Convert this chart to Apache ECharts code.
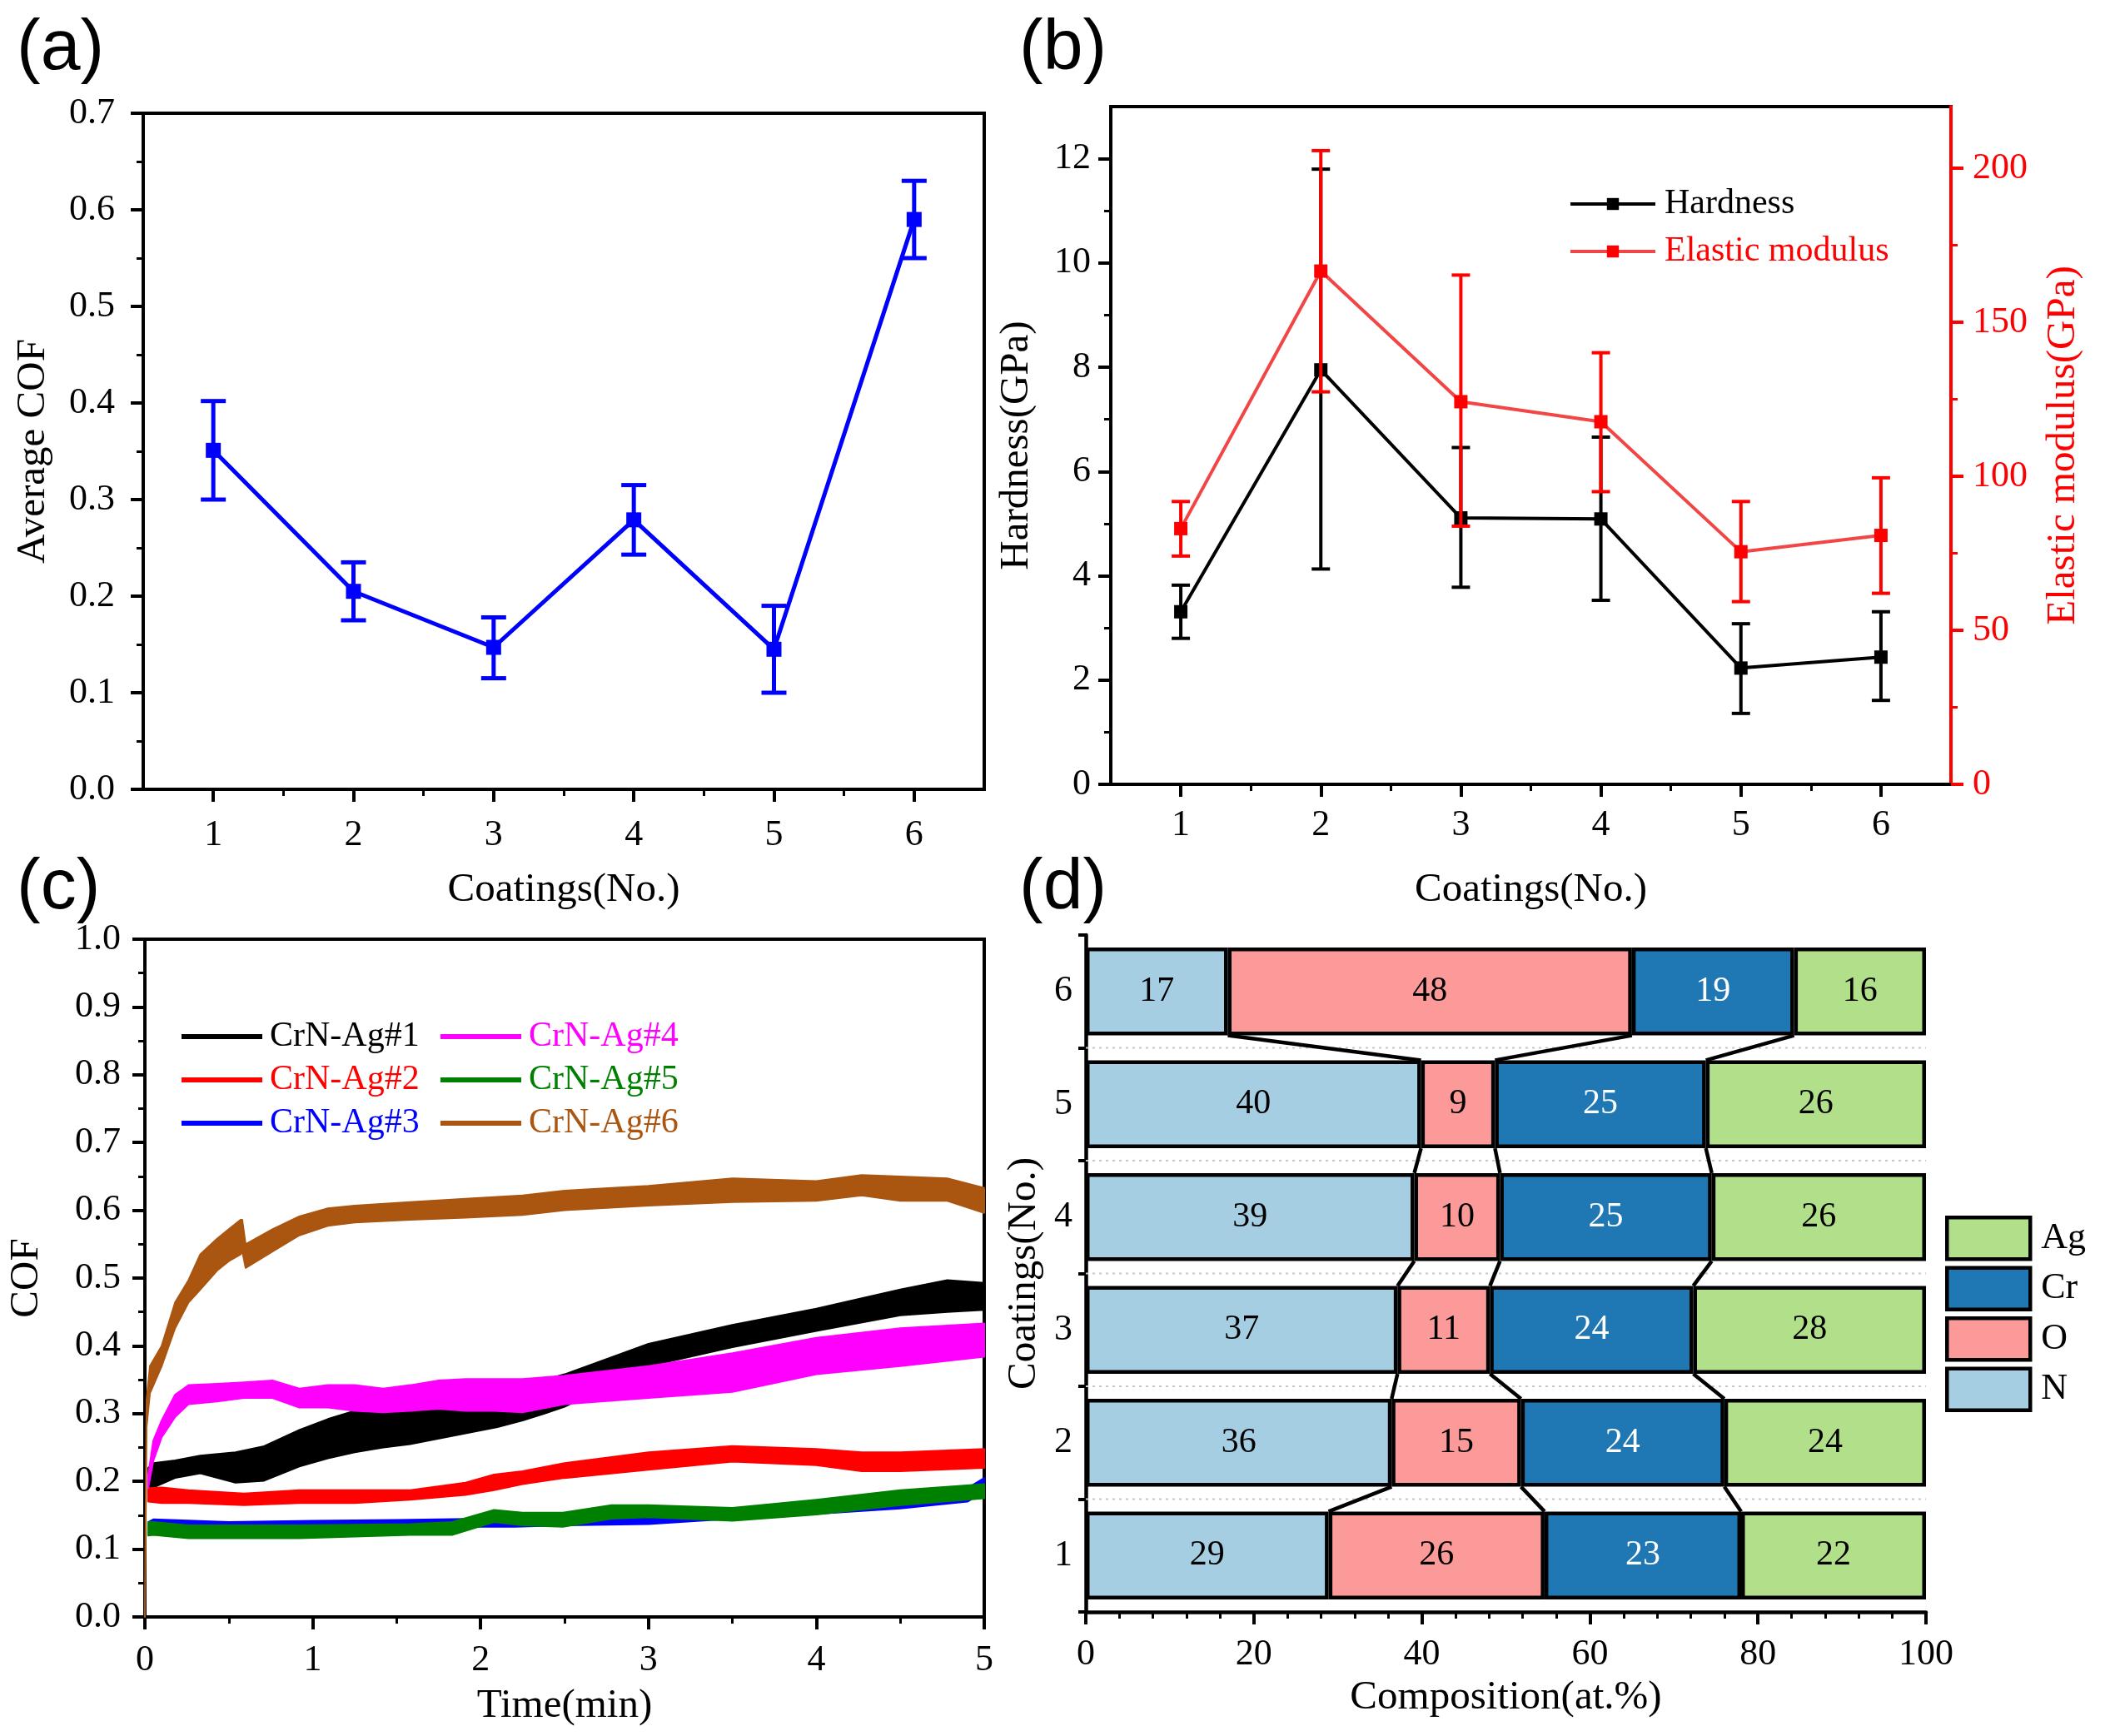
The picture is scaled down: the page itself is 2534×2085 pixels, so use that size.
<!DOCTYPE html>
<html><head><meta charset="utf-8">
<script src="https://cdn.jsdelivr.net/npm/echarts@6/dist/echarts.min.js"></script>
<style>html,body{margin:0;padding:0;background:#fff}#c{width:2534px;height:2085px}</style>
</head><body><div id="c"></div>
<script>
// ---------- data ----------
const coatings = [1, 2, 3, 4, 5, 6];
const coatingTicks = [1, 2, 3, 4, 5, 6];
const coatingMinorTicks = [1.5, 2.5, 3.5, 4.5, 5.5];

// (a) average COF
const avgCOF = [0.351, 0.205, 0.147, 0.279, 0.145, 0.590];
const avgCOFLow = [0.300, 0.175, 0.115, 0.243, 0.100, 0.550];
const avgCOFHigh = [0.402, 0.235, 0.178, 0.315, 0.190, 0.630];

// (b) hardness / elastic modulus
const hardness = [3.31, 7.95, 5.11, 5.09, 2.23, 2.44];
const hardnessLow = [2.80, 4.13, 3.78, 3.53, 1.36, 1.61];
const hardnessHigh = [3.82, 11.80, 6.46, 6.66, 3.08, 3.31];
const modulus = [83.0, 166.6, 124.2, 117.7, 75.5, 80.8];
const modulusLow = [74.1, 127.4, 83.8, 95.0, 59.3, 62.0];
const modulusHigh = [91.8, 205.7, 165.3, 140.1, 91.8, 99.5];
const hardnessTicks = [0, 2, 4, 6, 8, 10, 12];
const hardnessMinorTicks = [1, 3, 5, 7, 9, 11];
const modulusTicks = [0, 50, 100, 150, 200];
const modulusMinorTicks = [25, 75, 125, 175];

// (c) COF vs time: lower / upper envelope of each noisy trace
const cof1T  = [0.02, 0.05, 0.18, 0.33, 0.54, 0.71, 0.92, 1.09, 1.25, 1.42, 1.58, 1.91, 2.1, 2.25, 2.38, 2.5, 3.0, 3.5, 4.0, 4.5, 4.78, 5.0];
const cof1Lo = [0.190, 0.191, 0.205, 0.212, 0.198, 0.201, 0.222, 0.234, 0.243, 0.250, 0.255, 0.271, 0.280, 0.290, 0.300, 0.310, 0.370, 0.398, 0.422, 0.445, 0.450, 0.453];
const cof1Hi = [0.220, 0.227, 0.231, 0.238, 0.243, 0.252, 0.276, 0.292, 0.304, 0.310, 0.312, 0.315, 0.320, 0.330, 0.350, 0.358, 0.403, 0.431, 0.455, 0.483, 0.497, 0.493];

const cof2T  = [0.02, 0.1, 0.26, 0.59, 0.92, 1.25, 1.58, 1.91, 2.08, 2.25, 2.5, 3.0, 3.5, 4.0, 4.27, 4.5, 5.0];
const cof2Lo = [0.170, 0.168, 0.168, 0.165, 0.168, 0.168, 0.173, 0.180, 0.187, 0.196, 0.205, 0.217, 0.229, 0.224, 0.215, 0.215, 0.220];
const cof2Hi = [0.190, 0.191, 0.187, 0.182, 0.187, 0.187, 0.187, 0.198, 0.210, 0.215, 0.227, 0.243, 0.252, 0.248, 0.243, 0.243, 0.248];

const cof3T  = [0.02, 0.05, 0.5, 1.0, 1.5, 2.0, 2.2, 2.5, 3.0, 3.5, 4.0, 4.5, 4.9, 5.0];
const cof3Lo = [0.125, 0.130, 0.130, 0.130, 0.131, 0.133, 0.133, 0.135, 0.137, 0.145, 0.152, 0.160, 0.170, 0.185];
const cof3Hi = [0.140, 0.144, 0.140, 0.142, 0.143, 0.145, 0.148, 0.148, 0.152, 0.160, 0.165, 0.175, 0.190, 0.205];

const cof4T  = [0.02, 0.05, 0.1, 0.18, 0.26, 0.43, 0.59, 0.76, 0.92, 1.09, 1.25, 1.42, 1.58, 1.75, 1.91, 2.08, 2.25, 2.5, 3.0, 3.5, 4.0, 4.5, 5.0];
const cof4Lo = [0.190, 0.230, 0.265, 0.295, 0.314, 0.318, 0.323, 0.323, 0.309, 0.309, 0.304, 0.302, 0.304, 0.307, 0.304, 0.304, 0.302, 0.314, 0.323, 0.332, 0.358, 0.370, 0.384];
const cof4Hi = [0.210, 0.260, 0.290, 0.328, 0.342, 0.344, 0.346, 0.349, 0.337, 0.342, 0.342, 0.337, 0.342, 0.349, 0.351, 0.351, 0.351, 0.356, 0.370, 0.389, 0.412, 0.426, 0.433];

const cof5T  = [0.02, 0.05, 0.26, 0.92, 1.58, 1.83, 2.08, 2.25, 2.49, 2.78, 3.0, 3.5, 4.0, 4.5, 5.0];
const cof5Lo = [0.120, 0.121, 0.116, 0.116, 0.121, 0.121, 0.140, 0.135, 0.133, 0.145, 0.147, 0.142, 0.151, 0.165, 0.175];
const cof5Hi = [0.140, 0.140, 0.135, 0.135, 0.137, 0.140, 0.158, 0.154, 0.154, 0.165, 0.165, 0.161, 0.173, 0.187, 0.196];

const cof6T  = [0, 0.01, 0.03, 0.1, 0.18, 0.26, 0.33, 0.43, 0.5, 0.57, 0.58, 0.6, 0.76, 0.92, 1.09, 1.25, 1.58, 1.91, 2.25, 2.5, 3.0, 3.5, 4.0, 4.27, 4.5, 4.78, 5.0];
const cof6Lo = [0.000, 0.280, 0.330, 0.370, 0.426, 0.464, 0.483, 0.511, 0.525, 0.535, 0.540, 0.515, 0.539, 0.563, 0.577, 0.582, 0.586, 0.589, 0.593, 0.600, 0.607, 0.612, 0.614, 0.622, 0.614, 0.614, 0.596];
const cof6Hi = [0.010, 0.320, 0.370, 0.400, 0.464, 0.497, 0.535, 0.558, 0.572, 0.586, 0.586, 0.550, 0.572, 0.591, 0.603, 0.607, 0.612, 0.617, 0.622, 0.629, 0.636, 0.647, 0.643, 0.652, 0.650, 0.647, 0.633];

const traceNames = ['CrN-Ag#1', 'CrN-Ag#2', 'CrN-Ag#3', 'CrN-Ag#4', 'CrN-Ag#5', 'CrN-Ag#6'];

// (d) composition (at.%)
const compCategories = ['1', '2', '3', '4', '5', '6'];
const compN  = [28.9, 36.4, 37.1, 39.1, 39.9, 16.9];
const compO  = [25.7, 15.4, 11.0, 10.2, 8.8, 48.1];
const compCr = [23.4, 24.2, 24.2, 25.2, 25.1, 19.3];
const compAg = [22.0, 24.0, 27.7, 25.5, 26.2, 15.7];

// ---------- styling ----------
const SERIF = '"Liberation Serif", "Times New Roman", serif';
const LAB = 44, TIT = 49;
const traceColors = ['#000000', '#ff0000', '#0000ff', '#ff00ff', '#008000', '#aa5510'];
const compColors = {N: '#a6cee3', O: '#fb9a99', Cr: '#1f78b4', Ag: '#b2df8a'};

function lbl(extra) {
  return Object.assign({fontSize: LAB, fontFamily: SERIF, color: '#000'}, extra || {});
}
function nameStyle(color) {
  return {fontSize: TIT, fontFamily: SERIF, color: color || '#000'};
}
function line(color, w) { return {show: true, lineStyle: {color: color || '#000', width: w || 4}}; }
function tick(len, color, extra) {
  return Object.assign({show: true, length: len, lineStyle: {color: color || '#000', width: 4}}, extra || {});
}
function minorAxisX(grid, min, max, vals) {
  return {gridIndex: grid, type: 'value', position: 'bottom', min: min, max: max,
    axisLine: {show: false}, axisLabel: {show: false}, splitLine: {show: false},
    axisTick: {show: true, length: 8, customValues: vals, lineStyle: {color: '#000', width: 3}}};
}
function minorAxisY(grid, pos, min, max, vals, color) {
  return {gridIndex: grid, type: 'value', position: pos, min: min, max: max,
    axisLine: {show: false}, axisLabel: {show: false}, splitLine: {show: false},
    axisTick: {show: true, length: 8, customValues: vals, lineStyle: {color: color || '#000', width: 3}}};
}

function errorBars(cap, color, width) {
  return function (params, api) {
    const x = api.value(0);
    const lo = api.coord([x, api.value(1)]);
    const hi = api.coord([x, api.value(2)]);
    const st = () => ({stroke: color, lineWidth: width});
    return {type: 'group', children: [
      {type: 'line', shape: {x1: lo[0], y1: lo[1], x2: hi[0], y2: hi[1]}, style: st()},
      {type: 'line', shape: {x1: hi[0] - cap, y1: hi[1], x2: hi[0] + cap, y2: hi[1]}, style: st()},
      {type: 'line', shape: {x1: lo[0] - cap, y1: lo[1], x2: lo[0] + cap, y2: lo[1]}, style: st()}
    ]};
  };
}

// bands for panel (c): filled polygon between the lower and upper envelope
const traces = [
  [cof1T, cof1Lo, cof1Hi], [cof2T, cof2Lo, cof2Hi], [cof3T, cof3Lo, cof3Hi],
  [cof4T, cof4Lo, cof4Hi], [cof5T, cof5Lo, cof5Hi], [cof6T, cof6Lo, cof6Hi]
];
const bandSeries = traces.map(function (tr, i) {
  const T = tr[0], Lo = tr[1], Hi = tr[2];
  const color = traceColors[i];
  return {
    type: 'custom', name: traceNames[i], xAxisIndex: 4, yAxisIndex: 5, silent: true,
    itemStyle: {color: color}, encode: {x: 0, y: [1, 2]},
    data: T.map((t, k) => [t, Lo[k], Hi[k]]), z: 2,
    renderItem: function (params, api) {
      if (params.dataIndexInside !== 0) return null;
      const n = params.dataInsideLength;
      const upper = [], lower = [];
      for (let j = 0; j < n; j++) {
        const t = api.value(0, j);
        upper.push(api.coord([t, api.value(2, j)]));
        lower.push(api.coord([t, api.value(1, j)]));
      }
      const pts = upper.concat(lower.reverse());
      return {type: 'polygon', shape: {points: pts},
        style: {fill: color, stroke: color, lineWidth: 2, lineJoin: 'round'}};
    }
  };
});

// connectors & gap grid lines for panel (d)
const compRows = compCategories.map((c, k) => [compN[k], compN[k] + compO[k], compN[k] + compO[k] + compCr[k]]);
const connData = [];
for (let k = 0; k < compRows.length - 1; k++) {
  for (let j = 0; j < 3; j++) connData.push([compRows[k][j], k, compRows[k + 1][j], k + 1, j]);
}
const BAR_FRAC = 0.78;

function compBar(name, values, textColor) {
  return {
    type: 'bar', name: name, xAxisIndex: 5, yAxisIndex: 6, stack: 'comp', barWidth: (BAR_FRAC * 100) + '%',
    data: values,
    itemStyle: {color: compColors[name], borderColor: '#000', borderWidth: 4.5},
    label: {show: true, position: 'inside', formatter: p => String(Math.round(p.value)),
      fontSize: 42, fontFamily: SERIF, color: textColor},
    z: 3
  };
}

const chart = echarts.init(document.getElementById('c'), null, {renderer: 'canvas', width: 2534, height: 2085});

const option = {
  animation: false,
  backgroundColor: '#fff',
  textStyle: {fontFamily: SERIF},
  grid: [
    {left: 172, top: 136, width: 1010, height: 812, show: true, borderColor: '#000', borderWidth: 4, backgroundColor: 'transparent'},
    {left: 1334, top: 128, width: 1009, height: 814, show: true, borderColor: '#000', borderWidth: 4, backgroundColor: 'transparent'},
    {left: 174, top: 1128, width: 1008, height: 814, show: true, borderColor: '#000', borderWidth: 4, backgroundColor: 'transparent'},
    {left: 1304, top: 1123, width: 1009, height: 813}
  ],
  xAxis: [
    {gridIndex: 0, type: 'value', position: 'bottom', min: 0.5, max: 6.5,
      axisLine: line(), axisTick: tick(15, '#000', {customValues: coatingTicks}),
      axisLabel: lbl({margin: 33, customValues: coatingTicks}), splitLine: {show: false},
      name: 'Coatings(No.)', nameLocation: 'middle', nameGap: 97, nameTextStyle: nameStyle()},
    minorAxisX(0, 0.5, 6.5, coatingMinorTicks),
    {gridIndex: 1, type: 'value', position: 'bottom', min: 0.5, max: 6.5,
      axisLine: line(), axisTick: tick(15, '#000', {customValues: coatingTicks}),
      axisLabel: lbl({margin: 27, customValues: coatingTicks}), splitLine: {show: false},
      name: 'Coatings(No.)', nameLocation: 'middle', nameGap: 103, nameTextStyle: nameStyle()},
    minorAxisX(1, 0.5, 6.5, coatingMinorTicks),
    {gridIndex: 2, type: 'value', min: 0, max: 5, interval: 1,
      axisLine: line(), axisTick: tick(15),
      minorTick: {show: true, splitNumber: 2, length: 8, lineStyle: {color: '#000', width: 3}},
      axisLabel: lbl({margin: 30}), splitLine: {show: false}, minorSplitLine: {show: false},
      name: 'Time(min)', nameLocation: 'middle', nameGap: 83, nameTextStyle: nameStyle()},
    {gridIndex: 3, type: 'value', min: 0, max: 100, interval: 20,
      axisLine: line('#000', 4.5), axisTick: tick(15),
      minorTick: {show: true, splitNumber: 5, length: 8, lineStyle: {color: '#000', width: 3}},
      axisLabel: lbl({margin: 29}), splitLine: {show: false},
      name: 'Composition(at.%)', nameLocation: 'middle', nameGap: 79, nameTextStyle: nameStyle()}
  ],
  yAxis: [
    {gridIndex: 0, type: 'value', min: 0, max: 0.7, interval: 0.1,
      axisLine: line(), axisTick: tick(15),
      minorTick: {show: true, splitNumber: 2, length: 8, lineStyle: {color: '#000', width: 3}},
      axisLabel: lbl({margin: 34, formatter: v => v.toFixed(1)}), splitLine: {show: false},
      name: 'Average COF', nameLocation: 'middle', nameRotate: 90, nameGap: 107, nameTextStyle: nameStyle()},
    {gridIndex: 1, type: 'value', position: 'left', min: 0, max: 13,
      axisLine: line(), axisTick: tick(15, '#000', {customValues: hardnessTicks}),
      axisLabel: lbl({margin: 24, customValues: hardnessTicks}), splitLine: {show: false},
      name: 'Hardness(GPa)', nameLocation: 'middle', nameRotate: 90, nameGap: 88, nameTextStyle: nameStyle()},
    minorAxisY(1, 'left', 0, 13, hardnessMinorTicks),
    {gridIndex: 1, type: 'value', position: 'right', min: 0, max: 220,
      axisLine: line('#ff0000'), axisTick: tick(15, '#ff0000', {customValues: modulusTicks}),
      axisLabel: lbl({margin: 26, color: '#ff0000', customValues: modulusTicks}), splitLine: {show: false},
      name: 'Elastic modulus(GPa)', nameLocation: 'middle', nameRotate: 90, nameGap: 111, nameTextStyle: nameStyle('#ff0000')},
    minorAxisY(1, 'right', 0, 220, modulusMinorTicks, '#ff0000'),
    {gridIndex: 2, type: 'value', min: 0, max: 1, interval: 0.1,
      axisLine: line(), axisTick: tick(15),
      minorTick: {show: true, splitNumber: 2, length: 8, lineStyle: {color: '#000', width: 3}},
      axisLabel: lbl({margin: 29, formatter: v => v.toFixed(1)}), splitLine: {show: false},
      name: 'COF', nameLocation: 'middle', nameRotate: 90, nameGap: 117, nameTextStyle: nameStyle()},
    {gridIndex: 3, type: 'category', data: compCategories,
      axisLine: line('#000', 4.5), axisTick: {show: true, length: 9, lineStyle: {color: '#000', width: 4}},
      axisLabel: lbl({margin: 16}), splitLine: {show: false},
      name: 'Coatings(No.)', nameLocation: 'middle', nameRotate: 90, nameGap: 49, nameTextStyle: nameStyle()}
  ],
  legend: [
    {orient: 'vertical', left: 1884, top: 224, padding: 0, itemGap: 15, itemWidth: 102, itemHeight: 18,
      selectedMode: false, textStyle: {fontSize: 42, fontFamily: SERIF, lineHeight: 42, padding: [0, 0, 0, 6]},
      lineStyle: {width: 4},
      data: [{name: 'Hardness', textStyle: {color: '#000'}}, {name: 'Elastic modulus', textStyle: {color: '#ff0000'}}]},
    {orient: 'vertical', left: 218, top: 1224, padding: 0, itemGap: 10, itemWidth: 97, itemHeight: 6, icon: 'rect',
      selectedMode: false, textStyle: {fontSize: 42, fontFamily: SERIF, lineHeight: 42, padding: [0, 0, 0, 4]},
      data: traceNames.slice(0, 3).map((n, i) => ({name: n, textStyle: {color: traceColors[i]}}))},
    {orient: 'vertical', left: 529, top: 1224, padding: 0, itemGap: 10, itemWidth: 97, itemHeight: 6, icon: 'rect',
      selectedMode: false, textStyle: {fontSize: 42, fontFamily: SERIF, lineHeight: 42, padding: [0, 0, 0, 4]},
      data: traceNames.slice(3).map((n, i) => ({name: n, textStyle: {color: traceColors[i + 3]}}))},
    {orient: 'vertical', left: 2336, top: 1460, padding: 0, itemGap: 6, itemWidth: 100, itemHeight: 50, icon: 'rect',
      selectedMode: false, textStyle: {fontSize: 44, fontFamily: SERIF, color: '#000', padding: [0, 0, 0, 8]},
      itemStyle: {borderColor: '#000', borderWidth: 4.5},
      data: ['Ag', 'Cr', 'O', 'N']}
  ],
  graphic: [
    {type: 'text', left: 20, top: 16, style: {text: '(a)', fontSize: 86, fontFamily: '"Liberation Sans", Arial, sans-serif', fill: '#000'}},
    {type: 'text', left: 1224, top: 16, style: {text: '(b)', fontSize: 86, fontFamily: '"Liberation Sans", Arial, sans-serif', fill: '#000'}},
    {type: 'text', left: 20, top: 1024, style: {text: '(c)', fontSize: 86, fontFamily: '"Liberation Sans", Arial, sans-serif', fill: '#000'}},
    {type: 'text', left: 1224, top: 1024, style: {text: '(d)', fontSize: 86, fontFamily: '"Liberation Sans", Arial, sans-serif', fill: '#000'}}
  ],
  series: [
    // (a)
    {type: 'custom', name: 'errA', xAxisIndex: 0, yAxisIndex: 0, silent: true,
      renderItem: errorBars(15, '#0000ff', 5), encode: {x: 0, y: [1, 2]},
      data: coatings.map((c, i) => [c, avgCOFLow[i], avgCOFHigh[i]]), z: 3},
    {type: 'line', name: 'Average COF', xAxisIndex: 0, yAxisIndex: 0, silent: true,
      data: coatings.map((c, i) => [c, avgCOF[i]]), symbol: 'rect', symbolSize: 18,
      itemStyle: {color: '#0000ff'}, lineStyle: {color: '#0000ff', width: 5}, z: 4},
    // (b)
    {type: 'line', name: 'Hardness', xAxisIndex: 2, yAxisIndex: 1, silent: true,
      data: coatings.map((c, i) => [c, hardness[i]]), symbol: 'rect', symbolSize: 16,
      itemStyle: {color: '#000'}, lineStyle: {color: '#000', width: 4}, z: 3},
    {type: 'custom', name: 'errH', xAxisIndex: 2, yAxisIndex: 1, silent: true,
      renderItem: errorBars(11, '#000', 4), encode: {x: 0, y: [1, 2]},
      data: coatings.map((c, i) => [c, hardnessLow[i], hardnessHigh[i]]), z: 3},
    {type: 'line', name: 'Elastic modulus', xAxisIndex: 2, yAxisIndex: 3, silent: true,
      data: coatings.map((c, i) => [c, modulus[i]]), symbol: 'rect', symbolSize: 16,
      itemStyle: {color: '#ff0000'}, lineStyle: {color: '#f24646', width: 4}, z: 4},
    {type: 'custom', name: 'errE', xAxisIndex: 2, yAxisIndex: 3, silent: true,
      renderItem: errorBars(11, '#ff0000', 4), encode: {x: 0, y: [1, 2]},
      data: coatings.map((c, i) => [c, modulusLow[i], modulusHigh[i]]), z: 4},
    // (c)
    ...bandSeries,
    // (d)
    compBar('N', compN, '#000'),
    compBar('O', compO, '#000'),
    compBar('Cr', compCr, '#fff'),
    compBar('Ag', compAg, '#000'),
    {type: 'custom', name: 'conn', xAxisIndex: 5, yAxisIndex: 6, silent: true,
      encode: {x: [0, 2], y: [1, 3]}, data: connData, z: 4,
      renderItem: function (params, api) {
        const p1 = api.coord([api.value(0), api.value(1)]);
        const p2 = api.coord([api.value(2), api.value(3)]);
        const half = api.size([0, 1])[1] * BAR_FRAC / 2;
        const children = [];
        if (api.value(4) === 0) {
          const yMid = (p1[1] + p2[1]) / 2;
          const xa = api.coord([0, api.value(1)])[0];
          const xb = api.coord([100, api.value(1)])[0];
          children.push({type: 'line', shape: {x1: xa, y1: yMid, x2: xb, y2: yMid},
            style: {stroke: '#c8c8c8', lineWidth: 2, lineDash: [3, 5]}});
        }
        children.push({type: 'line', shape: {x1: p1[0], y1: p1[1] - half, x2: p2[0], y2: p2[1] + half},
          style: {stroke: '#000', lineWidth: 4.5}});
        return {type: 'group', children: children};
      }}
  ]
};
chart.setOption(option);
</script>
</body></html>
